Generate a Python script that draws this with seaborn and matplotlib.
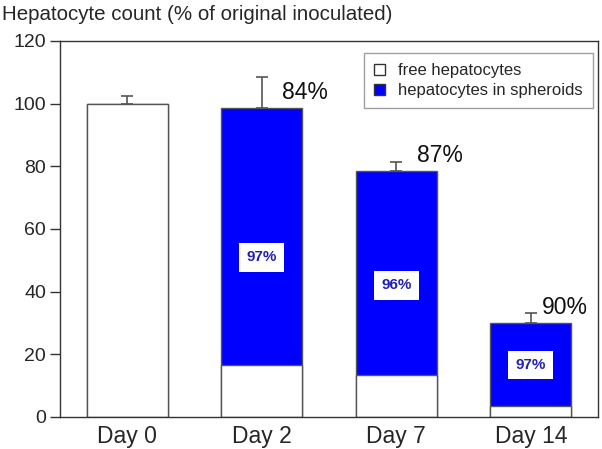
import numpy as np
import pandas as pd
import matplotlib
matplotlib.use('Agg')
import matplotlib.pyplot as plt
import seaborn as sns
from matplotlib.patches import Patch

# Data
days = ['Day 0', 'Day 2', 'Day 7', 'Day 14']
total = [100, 98.5, 78.5, 30]
free = [100, 16.5, 13.5, 3.5]
err_up = [2.5, 10, 3, 3.2]
viability = ['', '84%', '87%', '90%']
spheroid_pct = ['', '97%', '96%', '97%']
label_y = [0, 51, 42, 16.6]
label_dx = [0, 0.15, 0.155, 0.08]

sns.set_style('white')
plt.rcParams['font.family'] = ['Liberation Sans', 'DejaVu Sans']

df = pd.DataFrame({'day': days, 'total': total, 'free': free})

fig = plt.figure(figsize=(6.02, 4.49), dpi=100)
ax = fig.add_axes([0.0997, 0.0713, 0.8937, 0.8374])

blue = '#0000ff'
sns.barplot(data=df, x='day', y='total', color=blue, width=0.6,
            edgecolor='#555555', linewidth=1.0, saturation=1, ax=ax)
sns.barplot(data=df, x='day', y='free', color='white', width=0.6,
            edgecolor='#555555', linewidth=1.0, saturation=1, ax=ax)

# Upper error bars
x = np.arange(len(days))
ax.errorbar(x, total, yerr=[np.zeros(len(days)), err_up], fmt='none',
            ecolor='#555555', elinewidth=1.2, capsize=4.5, capthick=1.2)

# Viability labels and spheroid fraction labels
for i in range(1, len(days)):
    ax.text(i + label_dx[i], total[i] + 5, viability[i], fontsize=16.5,
            ha='left', va='center', color='#111111')
    ax.text(i, label_y[i], spheroid_pct[i], fontsize=11, fontweight='bold',
            color='#2020b8', ha='center', va='center',
            bbox=dict(boxstyle='square,pad=0.48', fc='white', ec='none'))

ax.set_xlim(-0.5, 3.5)
ax.set_ylim(0, 120)
ax.set_yticks(range(0, 121, 20))
ax.set_xlabel('')
ax.set_ylabel('')
ax.tick_params(axis='y', labelsize=14, length=7, width=1, direction='out',
               left=True, color='#333333', pad=3)
ax.tick_params(axis='x', labelsize=16.5, length=0, pad=6)
for s in ax.spines.values():
    s.set_color('#333333')
    s.set_linewidth(1.0)

handles = [Patch(facecolor='white', edgecolor='#333333', label='free hepatocytes'),
           Patch(facecolor=blue, edgecolor='#333333', label='hepatocytes in spheroids')]
leg = ax.legend(handles=handles, loc='upper right', bbox_to_anchor=(0.99, 0.968),
                fontsize=12, frameon=True, fancybox=False, handlelength=0.65,
                handleheight=0.65, handletextpad=0.8, borderpad=0.6, labelspacing=0.3,
                borderaxespad=0)
leg.get_frame().set_edgecolor('#888888')
leg.get_frame().set_linewidth(1.0)

fig.text(0.003, 0.968, 'Hepatocyte count (% of original inoculated)', fontsize=14.8,
         ha='left', va='center')

fig.savefig('out.png', dpi=100)
